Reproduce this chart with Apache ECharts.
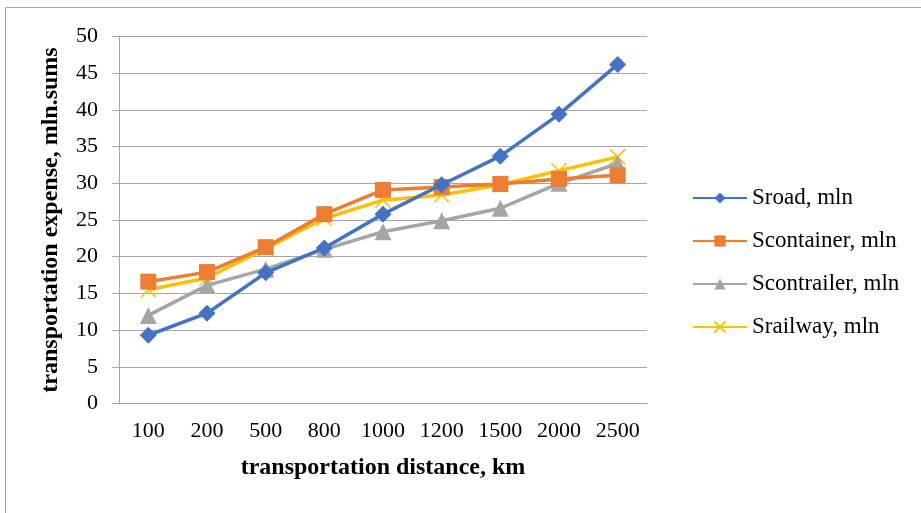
<!DOCTYPE html>
<html><head><meta charset="utf-8">
<script src="https://cdn.jsdelivr.net/npm/echarts@6/dist/echarts.min.js"></script>
<style>html,body{margin:0;padding:0;background:#fff}#c{width:921px;height:513px}</style>
</head><body><div id="c"></div>
<script>
const categories = ['100','200','500','800','1000','1200','1500','2000','2500'];
const sroad = [9.3, 12.3, 17.8, 21.2, 25.8, 29.8, 33.7, 39.4, 46.2];
const scontainer = [16.6, 17.9, 21.3, 25.8, 29.1, 29.5, 29.9, 30.6, 31.1];
const scontrailer = [12.0, 16.1, 18.3, 21.0, 23.4, 24.9, 26.6, 30.0, 32.7];
const srailway = [15.5, 17.1, 21.1, 25.2, 27.7, 28.4, 29.8, 31.7, 33.6];
const names = ['Sroad, mln','Scontainer, mln','Scontrailer, mln','Srailway, mln'];
const colors = ['#4472C4','#ED7D31','#A5A5A5','#FFC000'];

const font = 'Liberation Serif';
const chart = echarts.init(document.getElementById('c'));
const cross = 'path://M0,0L10,10M10,0L0,10';
function ser(i, data, symbol, size, extra){
  return Object.assign({
    name: names[i], type:'line', data, symbol, symbolSize:size,
    lineStyle:{color:colors[i], width:3.5},
    itemStyle:{color:colors[i]},
    showSymbol:true, animation:false, z: 10 - i
  }, extra||{});
}
chart.setOption({
  animation:false,
  graphic:[{type:'rect', shape:{x:5.5,y:7.5,width:930,height:520}, style:{fill:'none', stroke:'#a6a6a6', lineWidth:1}, silent:true}],
  grid:{left:119, right:274, top:36.5, bottom:109.5},
  xAxis:{type:'category', data:categories, boundaryGap:true,
    axisLine:{lineStyle:{color:'#a6a6a6', width:1}},
    axisTick:{show:false},
    axisLabel:{color:'#000', fontFamily:font, fontSize:22, margin:17, interval:0},
    name:'transportation distance, km', nameLocation:'middle', nameGap:52,
    nameTextStyle:{color:'#000', fontFamily:font, fontSize:24, fontWeight:'bold'}
  },
  yAxis:{type:'value', min:0, max:50, interval:5,
    axisLine:{show:true, lineStyle:{color:'#a6a6a6'}},
    axisTick:{show:true, length:7, lineStyle:{color:'#a6a6a6'}},
    splitLine:{lineStyle:{color:'#a6a6a6', width:1}},
    axisLabel:{color:'#000', fontFamily:font, fontSize:22, margin:21},
    name:'transportation expense, mln.sums', nameLocation:'middle', nameGap:56, nameRotate:90,
    nameTextStyle:{color:'#000', fontFamily:font, fontSize:24, fontWeight:'bold'}
  },
  legend:{orient:'vertical', left:687, top:181, itemGap:19, itemWidth:54, itemHeight:14,
    textStyle:{color:'#000', fontFamily:font, fontSize:23, lineHeight:24},
    data:names},
  series:[
    ser(0, sroad, 'diamond', 17),
    ser(1, scontainer, 'rect', 16),
    ser(2, scontrailer, 'triangle', 17),
    ser(3, srailway, cross, 15, {itemStyle:{color:'none', borderColor:colors[3], borderWidth:1.5}})
  ]
});
</script></body></html>
